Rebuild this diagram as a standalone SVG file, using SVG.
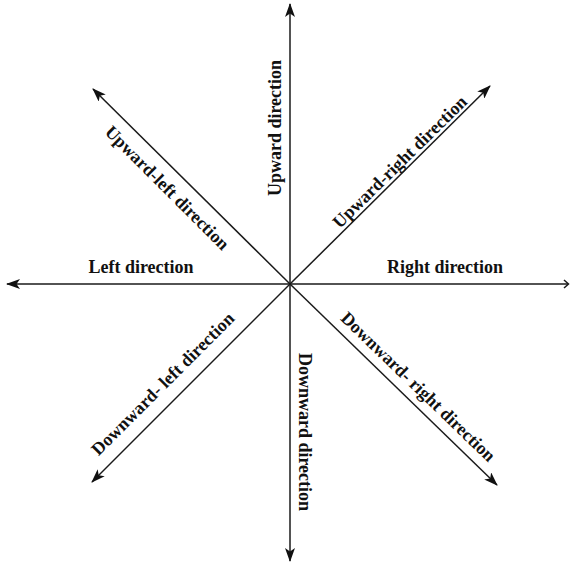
<svg xmlns="http://www.w3.org/2000/svg" width="570" height="563" viewBox="0 0 570 563">
<style>
.ln{stroke:#1a1a1a;stroke-width:1.5;fill:none}
.t{font-family:"Liberation Serif","Times New Roman",serif;font-weight:bold;font-size:18px;fill:#111;text-anchor:middle}
</style>
<defs>
<marker id="ah" viewBox="0 0 14 10" markerWidth="14" markerHeight="10" refX="13" refY="5" orient="auto" markerUnits="userSpaceOnUse">
<path d="M0,0 L14,5 L0,10 L3.5,5 z" fill="#111"/>
</marker>
</defs>
<rect width="570" height="563" fill="#fff"/>
<g id="connectors">
<line class="ln" x1="290" y1="284" x2="290" y2="4" marker-end="url(#ah)"/>
<line class="ln" x1="290" y1="284" x2="290" y2="561" marker-end="url(#ah)"/>
<line class="ln" x1="290" y1="284" x2="7" y2="284" marker-end="url(#ah)"/>
<line class="ln" x1="290" y1="284" x2="568" y2="284"/>
<path class="ln" d="M564,280 L568.5,284 L564,288" stroke-width="1.2"/>
<line class="ln" x1="290" y1="284" x2="93" y2="89" marker-end="url(#ah)"/>
<line class="ln" x1="290" y1="284" x2="490" y2="86" marker-end="url(#ah)"/>
<line class="ln" x1="290" y1="284" x2="92" y2="482" marker-end="url(#ah)"/>
<line class="ln" x1="290" y1="284" x2="497" y2="485" marker-end="url(#ah)"/>
</g>
<g id="up"><text class="t" transform="translate(281,128) rotate(-90)">Upward direction</text></g>
<g id="down"><text class="t" transform="translate(299,432) rotate(90)">Downward direction</text></g>
<g id="left"><text class="t" x="141" y="273">Left direction</text></g>
<g id="right"><text class="t" x="445" y="273">Right direction</text></g>
<g id="upright"><text class="t" transform="translate(404,166) rotate(-44.5)">Upward-right direction</text></g>
<g id="upleft"><text class="t" transform="translate(163,192) rotate(45)">Upward-left direction</text></g>
<g id="downright"><text class="t" transform="translate(414,391) rotate(44)">Downward- right direction</text></g>
<g id="downleft"><text class="t" transform="translate(167,388) rotate(-45)">Downward- left direction</text></g>
</svg>
